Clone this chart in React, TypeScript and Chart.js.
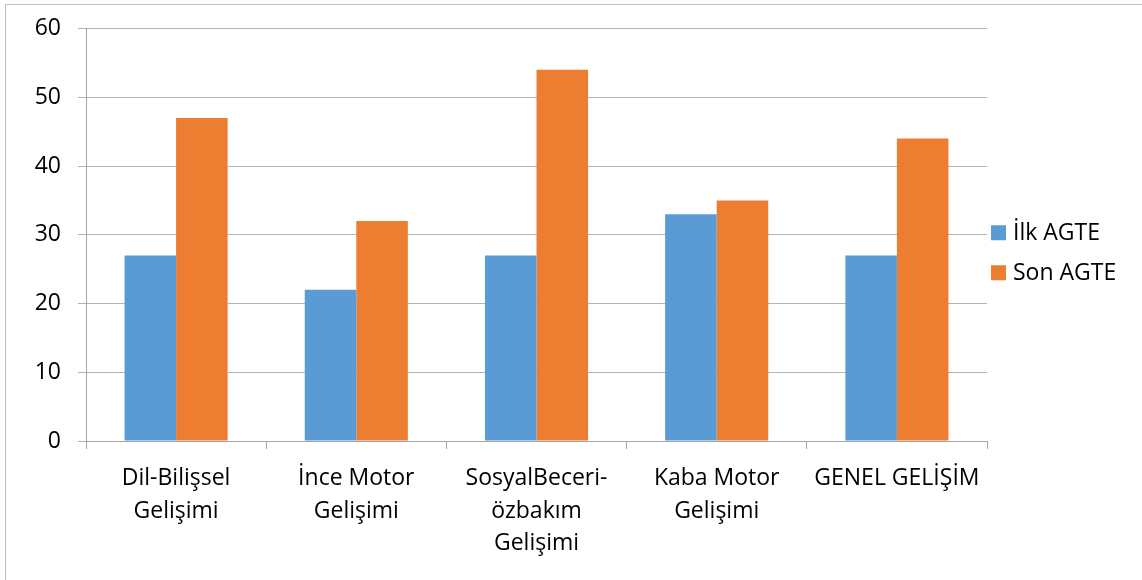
import React, { useEffect, useRef } from "react";
import { Chart, registerables } from "chart.js";

Chart.register(...registerables);

const categories: string[][] = [
  ["Dil-Bilişsel", "Gelişimi"],
  ["İnce Motor", "Gelişimi"],
  ["SosyalBeceri-", "özbakım", "Gelişimi"],
  ["Kaba Motor", "Gelişimi"],
  ["GENEL GELİŞİM"],
];
const seriesNames = ["İlk AGTE", "Son AGTE"];
const ilkValues = [27, 22, 27, 33, 27];
const sonValues = [47, 32, 54, 35, 44];
const yTicks = { min: 0, max: 60, step: 10 };

const FONT = "'Open Sans', Lato, sans-serif";
const FSIZE = 23;

const legendPlugin = {
  id: "sideLegend",
  afterDraw(chart: any) {
    const ctx = chart.ctx;
    const area = chart.chartArea;
    const x = area.right + 4;
    const midY = (area.top + area.bottom) / 2 + 18;
    const spacing = 40;
    const n = chart.data.datasets.length;
    ctx.save();
    ctx.font = `${FSIZE}px ${FONT}`;
    ctx.textBaseline = "middle";
    ctx.textAlign = "left";
    chart.data.datasets.forEach((ds: any, i: number) => {
      const cy = midY + (i - (n - 1) / 2) * spacing;
      ctx.fillStyle = ds.backgroundColor;
      ctx.fillRect(x, cy - 7.5, 15, 15);
      ctx.fillStyle = "#000";
      ctx.fillText(ds.label, x + 22, cy + 1);
    });
    ctx.restore();
  },
};

export default function App() {
  const ref = useRef<HTMLCanvasElement>(null);
  useEffect(() => {
    if (!ref.current) return;
    const chart = new Chart(ref.current, {
      type: "bar",
      data: {
        labels: categories,
        datasets: [
          { label: seriesNames[0], data: ilkValues, backgroundColor: "#5B9BD5" },
          { label: seriesNames[1], data: sonValues, backgroundColor: "#ED7D31" },
        ],
      },
      options: {
        animation: false,
        responsive: false,
        maintainAspectRatio: false,
        layout: { padding: { top: 23.5, right: 155, bottom: 0, left: 0 } },
        datasets: { bar: { categoryPercentage: 0.572, barPercentage: 1 } },
        plugins: { legend: { display: false }, tooltip: { enabled: false } },
        scales: {
          x: {
            grid: {
              offset: true,
              drawOnChartArea: false,
              drawTicks: true,
              tickLength: 8,
              color: "#a6a6a6",
            },
            border: { display: true, color: "#a6a6a6", width: 1 },
            ticks: {
              color: "#000",
              font: { family: FONT, size: FSIZE, lineHeight: 1.42 },
              padding: 13,
              maxRotation: 0,
              autoSkip: false,
            },
            afterFit: (scale: any) => {
              scale.height = 139;
            },
          },
          y: {
            min: yTicks.min,
            max: yTicks.max,
            ticks: {
              stepSize: yTicks.step,
              color: "#000",
              font: { family: FONT, size: FSIZE },
              padding: 17,
            },
            grid: { color: "#b4b4b4", tickLength: 8 },
            border: { display: true, color: "#a6a6a6", width: 1 },
            afterFit: (scale: any) => {
              scale.width = 80;
              scale.paddingTop = 0;
              scale.paddingBottom = 0;
            },
          },
        },
      },
      plugins: [legendPlugin],
    });
    return () => chart.destroy();
  }, []);
  return (
    <div
      style={{
        position: "absolute",
        left: 5,
        top: 4,
        width: 1140,
        height: 580,
        borderLeft: "1.5px solid #bfbfbf",
        borderTop: "1.5px solid #bfbfbf",
        background: "#fff",
      }}
    >
      <canvas ref={ref} width={1136} height={575} style={{ display: "block" }} />
    </div>
  );
}
